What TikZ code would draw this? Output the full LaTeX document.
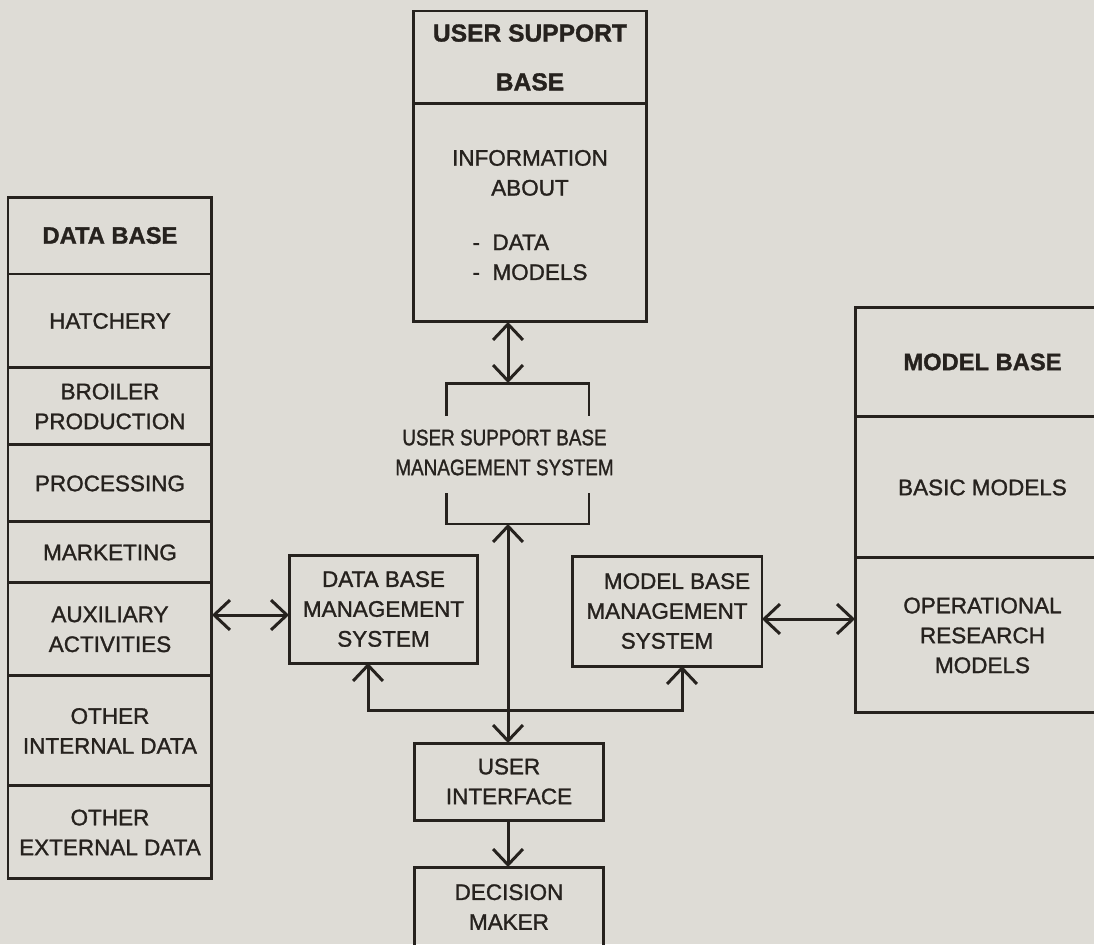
\documentclass[tikz,border=0pt]{standalone}
\usepackage{fontspec}
\usepackage{graphicx}
\setmainfont{Liberation Sans}[FakeBold=1.3]
\usetikzlibrary{positioning}
\usetikzlibrary{arrows.meta}
\definecolor{paper}{RGB}{222,220,214}
\definecolor{ink}{RGB}{38,34,30}
\newcommand{\narrowtext}[1]{\scalebox{0.84}[1]{#1}}

\begin{document}
\begin{tikzpicture}[
            x = 0.02cm, y = -0.02cm, % one unit = one pixel of the scan, y down
            > = {Straight Barb[length=9pt, width=17pt]}, % open arrow head
            color = ink,
            line width = 1.7pt,
            node distance = 0pt, % stacked rows touch
            every node/.style = {font = \fontsize{12.8}{17}\selectfont, align = center}
        ]

        \tikzstyle{box}=[
            draw = ink,
            outer sep = 0pt,
            inner sep = 0pt
        ]
        \tikzstyle{title}=[font = \fontsize{13.5}{17}\selectfont\bfseries]

        \useasboundingbox (0,0) rectangle (1094,944);
        \clip (0,0) rectangle (1094,944);
        \fill[paper] (0,0) rectangle (1094,944);

        % data base column
        \node[box, title, minimum width=4.08cm, minimum height=1.54cm, anchor=north west] (DB) at (8,197) {DATA BASE};
        \node[box, minimum width=4.08cm, minimum height=1.88cm, below=of DB] (HA) {HATCHERY};
        \node[box, minimum width=4.08cm, minimum height=1.54cm, below=of HA] (BP) {BROILER\\PRODUCTION};
        \node[box, minimum width=4.08cm, minimum height=1.54cm, below=of BP] (PR) {PROCESSING};
        \node[box, minimum width=4.08cm, minimum height=1.22cm, below=of PR] (MA) {MARKETING};
        \node[box, minimum width=4.08cm, minimum height=1.86cm, below=of MA] (AA) {AUXILIARY\\ACTIVITIES};
        \node[box, minimum width=4.08cm, minimum height=2.2cm, below=of AA] (OI) {OTHER\\INTERNAL DATA};
        \node[box, minimum width=4.08cm, minimum height=1.86cm, below=of OI] (OE) {OTHER\\EXTERNAL DATA};

        % model base column
        \node[box, title, minimum width=5.1cm, minimum height=2.2cm, anchor=north west] (MB) at (855,307) {MODEL BASE};
        \node[box, minimum width=5.1cm, minimum height=2.82cm, below=of MB] (BM) {BASIC MODELS};
        \node[box, minimum width=5.1cm, minimum height=3.1cm, below=of BM] (OR) {OPERATIONAL\\RESEARCH\\MODELS};

        % user support base
        \node[box, minimum width=4.68cm, minimum height=1.86cm, anchor=north west,
              font=\fontsize{14}{17}\selectfont\bfseries] (USB) at (413,11) {USER SUPPORT\\[10.8pt]BASE};
        \node[box, minimum width=4.68cm, minimum height=4.36cm, below=of USB] (INF) {};
        \node[below=22pt of INF.north] (INFtext) {INFORMATION\\ABOUT\\[18pt]\begin{tabular}{@{}l@{}}- \ DATA\\- \ MODELS\end{tabular}};

        % management systems
        \node[minimum width=2.86cm, minimum height=2.82cm, inner sep=0pt, outer sep=0pt] (USBMS) at (517.5,453.5) {};
        \node (USBMStext) at (504.5,452.5) {\narrowtext{USER SUPPORT BASE}\\\narrowtext{MANAGEMENT SYSTEM}};
        \draw (USBMS.north west) ++(0,33) -- (USBMS.north west) -- (USBMS.north east) -- ++(0,33);
        \draw (USBMS.south west) ++(0,-31) -- (USBMS.south west) -- (USBMS.south east) -- ++(0,-31);

        \node[box, minimum width=3.78cm, minimum height=2.16cm] (DBMS) at (383.5,609) {DATA BASE\\MANAGEMENT\\SYSTEM};
        \node[box, minimum width=3.8cm, minimum height=2.2cm] (MBMS) at (667,611) {\hspace*{0.4cm}MODEL BASE\\MANAGEMENT\\SYSTEM};

        % interface and user
        \node[box, minimum width=3.8cm, minimum height=1.54cm] (UI) at (509,781.5) {USER\\INTERFACE};
        \node[box, minimum width=3.8cm, minimum height=1.6cm] (DM) at (509,907) {DECISION\\MAKER};

        % links
        \coordinate (hub) at (508,710);
        \coordinate (DBin) at ([yshift=-0.12cm]DBMS.west);
        \coordinate (MBout) at ([yshift=-0.16cm]MBMS.east);

        \path[<->] (INF.south -| hub) edge (USBMS.north -| hub);
        \path[<->] (USBMS.south -| hub) edge (UI.north -| hub);
        \path[->] (UI.south -| hub) edge (DM.north -| hub);
        \path[<->] (AA.east |- DBin) edge (DBin);
        \path[<->] (MBout) edge (OR.west |- MBout);
        \draw[->] (hub) -| ([xshift=-0.31cm]DBMS.south);
        \draw[->] (hub) -| ([xshift=0.3cm]MBMS.south);

\end{tikzpicture}
\end{document}
